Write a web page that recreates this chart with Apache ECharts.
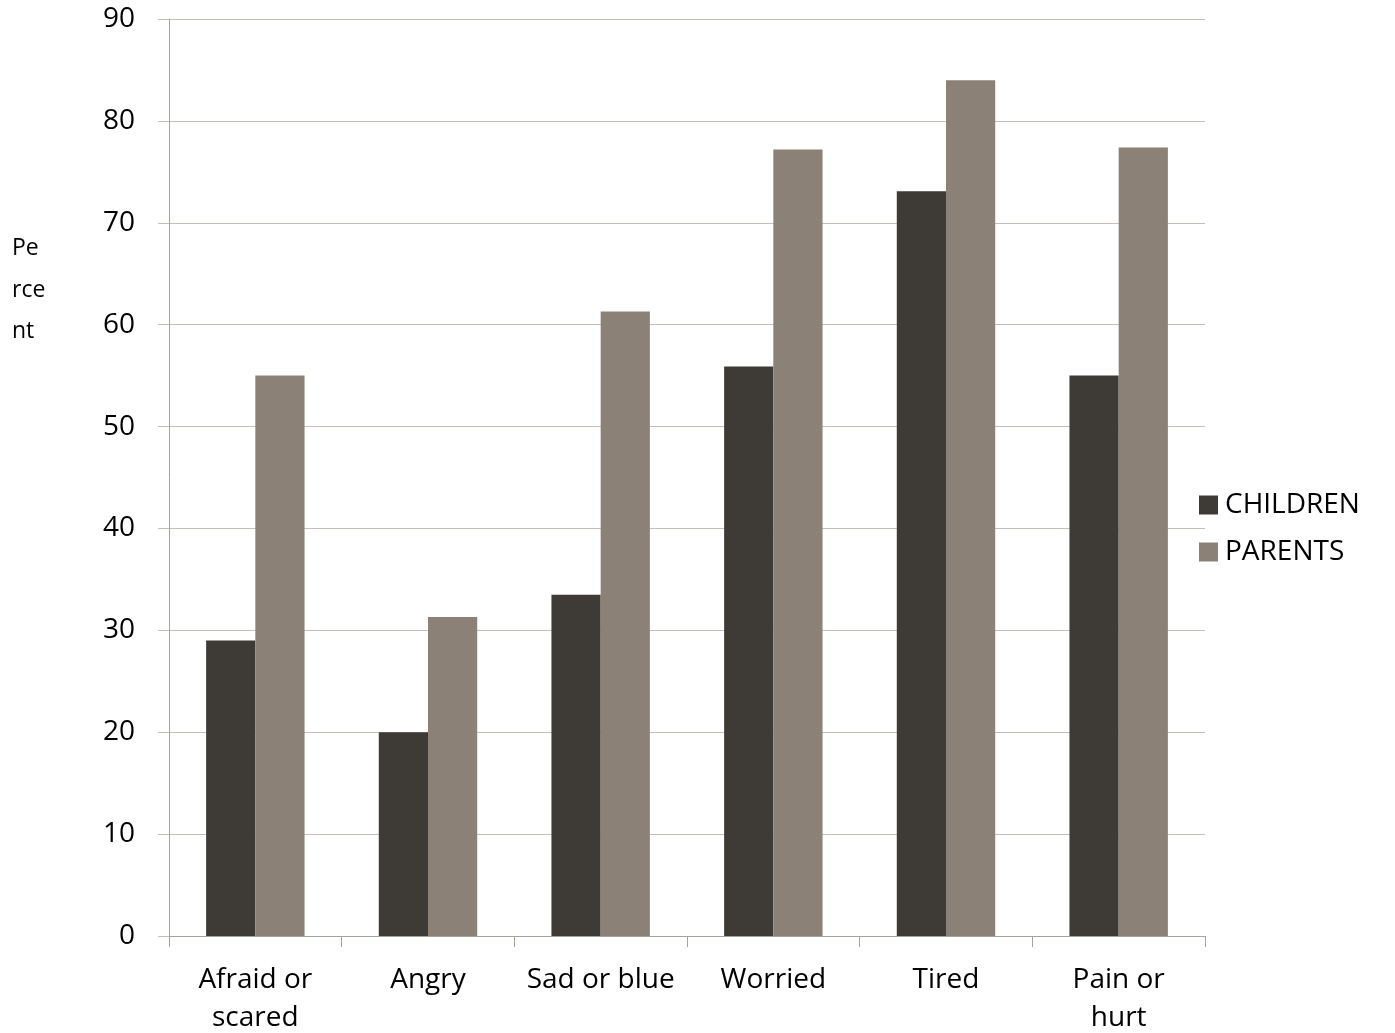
<!DOCTYPE html>
<html>
<head>
<meta charset="utf-8">
<script src="https://cdn.jsdelivr.net/npm/echarts@6/dist/echarts.min.js"></script>
<style>
  html, body { margin: 0; padding: 0; background: #ffffff; }
  #chart { width: 1395px; height: 1033px; }
</style>
</head>
<body>
<div id="chart"></div>
<script>
// Symptom categories and percentages reported by each group
const categories = ['Afraid or\nscared', 'Angry', 'Sad or blue', 'Worried', 'Tired', 'Pain or\nhurt'];
const childrenValues = [29, 20, 33.5, 55.9, 73.1, 55];
const parentsValues = [55, 31.3, 61.3, 77.2, 84, 77.4];
const seriesNames = ['CHILDREN', 'PARENTS'];
const yTicks = { min: 0, max: 90, interval: 10 };

const FONT = '"Open Sans", "Noto Sans", sans-serif';
const gridColor = '#c4bfb9';
const axisColor = '#a8a29c';

const chart = echarts.init(document.getElementById('chart'), null, { renderer: 'canvas' });

chart.setOption({
  backgroundColor: '#ffffff',
  animation: false,
  title: {
    text: 'Pe\nrce\nnt',
    left: 7,
    top: 223,
    textStyle: {
      fontFamily: FONT,
      fontSize: 23,
      fontWeight: 'normal',
      color: '#000000',
      lineHeight: 41.5
    }
  },
  legend: {
    orient: 'vertical',
    left: 1194,
    top: 486,
    itemWidth: 19,
    itemHeight: 19,
    itemGap: 19,
    icon: 'rect',
    data: seriesNames,
    textStyle: {
      fontFamily: FONT,
      fontSize: 28,
      color: '#000000',
      padding: [0, 0, 0, 2]
    }
  },
  grid: {
    left: 169,
    right: 190,
    top: 19,
    bottom: 97,
    containLabel: false,
    outerBoundsMode: 'none'
  },
  xAxis: {
    type: 'category',
    data: categories,
    boundaryGap: true,
    axisLine: { show: true, lineStyle: { color: axisColor, width: 1 } },
    axisTick: { show: true, length: 11, lineStyle: { color: axisColor, width: 1 } },
    axisLabel: {
      fontFamily: FONT,
      fontSize: 28,
      color: '#000000',
      lineHeight: 38,
      margin: 25,
      interval: 0
    },
    splitLine: { show: false }
  },
  yAxis: {
    type: 'value',
    min: yTicks.min,
    max: yTicks.max,
    interval: yTicks.interval,
    axisLine: { show: true, lineStyle: { color: axisColor, width: 1 } },
    axisTick: { show: true, length: 11, lineStyle: { color: gridColor, width: 1 } },
    axisLabel: {
      fontFamily: FONT,
      fontSize: 28,
      color: '#000000',
      margin: 34,
      verticalAlign: 'middle'
    },
    splitLine: { show: true, lineStyle: { color: gridColor, width: 1 } }
  },
  series: [
    {
      name: seriesNames[0],
      type: 'bar',
      data: childrenValues,
      barGap: '0%',
      barCategoryGap: '43%',
      itemStyle: { color: '#3e3a35' }
    },
    {
      name: seriesNames[1],
      type: 'bar',
      data: parentsValues,
      barGap: '0%',
      barCategoryGap: '43%',
      itemStyle: { color: '#8b8176' }
    }
  ]
});
</script>
</body>
</html>
